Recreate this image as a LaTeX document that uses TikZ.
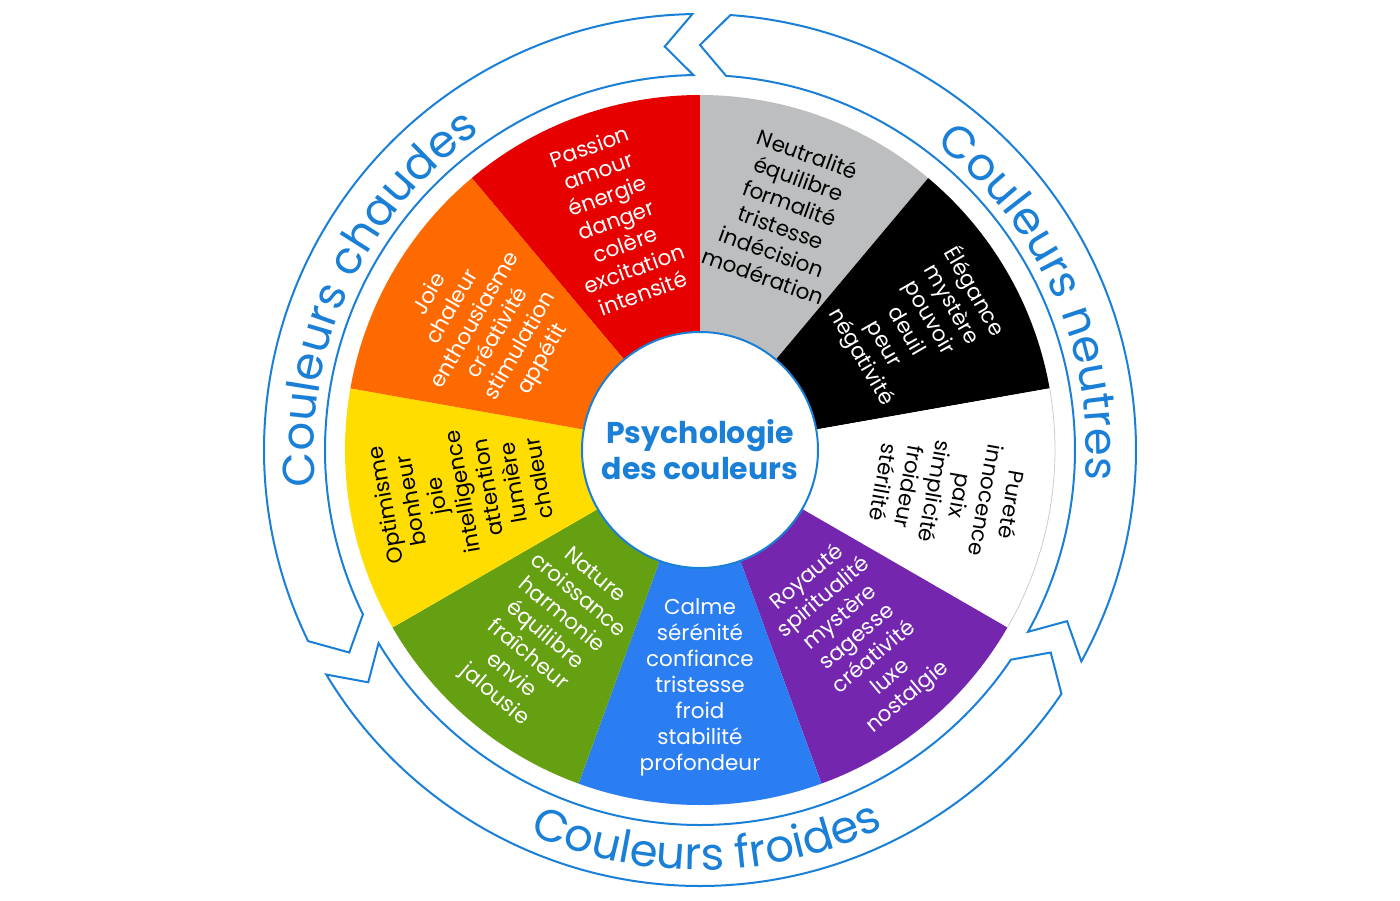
\documentclass[tikz,border=0pt]{standalone}
\usepackage{fontspec}
\setmainfont{Poppins}
\usetikzlibrary{decorations.text}
\definecolor{cblue}{HTML}{1A7FD6}
\definecolor{cred}{HTML}{E60000}
\definecolor{cgray}{HTML}{BDBEBF}
\definecolor{cpurple}{HTML}{7427AE}
\definecolor{cwblue}{HTML}{2B7DF2}
\definecolor{cgreen}{HTML}{64A012}
\definecolor{cyellow}{HTML}{FFDD00}
\definecolor{corange}{HTML}{FF6A00}
\begin{document}
\begin{tikzpicture}[x=1pt,y=1pt,
  band/.style={draw=cblue,line width=2pt,fill=white,line join=miter},
  wt/.style={align=center,font=\fontsize{21.5}{26}\selectfont,inner sep=0pt}]
\path[use as bounding box] (-700,-450) rectangle (700,450);
% wedges
\foreach \s/\c in {110/cred,70/cgray,30/black,-10/white,-50/cpurple,-90/cwblue,-130/cgreen,-170/cyellow,-210/corange}{
  \fill[\c] (0,0) -- (\s+20:355) arc[start angle=\s+20,end angle=\s-20,radius=355] -- cycle;
}
\draw[gray!40,line width=0.8pt] (10:355) arc[start angle=10,end angle=-30,radius=355];
% center
\node[circle,draw=cblue,line width=2pt,fill=white,minimum size=236pt,inner sep=0pt,
  align=center,text=cblue,font=\fontsize{30}{36}\selectfont\bfseries] (c) at (0,0) {Psychologie\\des couleurs};
% wedge texts
\node[wt,text=white,rotate=20] (t1) at (110:245) {Passion\\amour\\énergie\\danger\\colère\\excitation\\intensité};
\node[wt,text=black,rotate=-20] (t2) at (70:250) {Neutralité\\équilibre\\formalité\\tristesse\\indécision\\modération};
\node[wt,text=white,rotate=-60] (t3) at (30:252) {Élégance\\mystère\\pouvoir\\deuil\\peur\\négativité};
\node[wt,text=black,rotate=-100] (t4) at (-10:252) {Pureté\\innocence\\paix\\simplicité\\froideur\\stérilité};
\node[wt,text=white,rotate=40] (t5) at (-50:245) {Royauté\\spiritualité\\mystère\\sagesse\\créativité\\luxe\\nostalgie};
\node[wt,text=white,rotate=0] (t6) at (-90:237) {Calme\\sérénité\\confiance\\tristesse\\froid\\stabilité\\profondeur};
\node[wt,text=white,rotate=-40] (t7) at (-130:243) {Nature\\croissance\\harmonie\\équilibre\\fraîcheur\\envie\\jalousie};
\node[wt,text=black,rotate=100] (t8) at (190:242) {Optimisme\\bonheur\\joie\\intelligence\\attention\\lumière\\chaleur};
\node[wt,text=white,rotate=60] (t9) at (150:246) {Joie\\chaleur\\enthousiasme\\créativité\\stimulation\\appétit};
% bands
\foreach \a/\b in {91/206,211/326,331/446}{
  \draw[band] (\a:436) arc[start angle=\a,end angle=\b,radius=436] -- (\b+4:405) -- (\b:375)
    arc[start angle=\b,end angle=\a,radius=375] -- (\a+4:405) -- cycle;
}
% band labels
\path[decorate,decoration={text along path,text align=center,text color=cblue,
  text={|\fontsize{45}{45}\selectfont|Couleurs chaudes}}]
  (215:386) arc[start angle=215,end angle=95,radius=386];
\path[decorate,decoration={text along path,text align=center,text color=cblue,
  text={|\fontsize{45}{45}\selectfont|Couleurs neutres}}]
  (85:386) arc[start angle=85,end angle=-37,radius=386];
\path[decorate,decoration={text along path,text align=center,text color=cblue,
  text={|\fontsize{45}{45}\selectfont|Couleurs froides}}]
  (211:420) arc[start angle=211,end angle=331,radius=420];
\end{tikzpicture}
\end{document}
